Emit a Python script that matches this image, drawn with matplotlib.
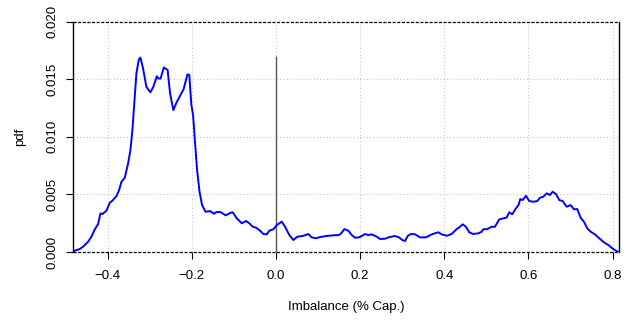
import matplotlib
matplotlib.use("Agg")
import matplotlib.pyplot as plt
import numpy as np

# Density curve (x: imbalance, y: pdf)
imbalance = [-0.4784, -0.4665, -0.4587, -0.4468, -0.4389, -0.4308, -0.4230, -0.4175, -0.4128, -0.4033,
             -0.3952, -0.3874, -0.3795, -0.3731, -0.3676, -0.3596, -0.3517, -0.3462, -0.3415, -0.3375,
             -0.3320, -0.3263, -0.3225, -0.3161, -0.3082, -0.2987, -0.2916, -0.2835, -0.2797, -0.2745,
             -0.2669, -0.2578, -0.2519, -0.2441, -0.2360, -0.2258, -0.2198, -0.2108, -0.2063, -0.2015,
             -0.1972, -0.1925, -0.1877, -0.1818, -0.1759, -0.1675, -0.1568, -0.1473, -0.1414, -0.1331,
             -0.1267, -0.1200, -0.1069, -0.1029, -0.0934, -0.0815, -0.0713, -0.0635, -0.0554, -0.0475,
             -0.0380, -0.0302, -0.0221, -0.0159, -0.0064, 0.0017, 0.0135, 0.0214, 0.0316, 0.0411,
             0.0506, 0.0635, 0.0768, 0.0848, 0.0951, 0.1046, 0.1205, 0.1362, 0.1497, 0.1561,
             0.1623, 0.1718, 0.1799, 0.1877, 0.1972, 0.2037, 0.2115, 0.2193, 0.2274, 0.2393,
             0.2471, 0.2590, 0.2669, 0.2750, 0.2828, 0.2923, 0.3001, 0.3066, 0.3130, 0.3208,
             0.3303, 0.3422, 0.3565, 0.3700, 0.3779, 0.3857, 0.3938, 0.4057, 0.4175, 0.4294,
             0.4373, 0.4437, 0.4515, 0.4594, 0.4689, 0.4808, 0.4888, 0.4926, 0.5021, 0.5126,
             0.5204, 0.5307, 0.5402, 0.5482, 0.5544, 0.5615, 0.5692, 0.5763, 0.5806, 0.5863,
             0.5941, 0.6020, 0.6115, 0.6210, 0.6274, 0.6352, 0.6433, 0.6511, 0.6576, 0.6654,
             0.6732, 0.6813, 0.6908, 0.7003, 0.7082, 0.7160, 0.7241, 0.7319, 0.7398, 0.7479,
             0.7581, 0.7683, 0.7795, 0.7897, 0.8016, 0.8111, 0.8158]
pdf_milli = [0.11, 0.26, 0.46, 0.89, 1.33, 1.97, 2.43, 3.35, 3.29, 3.58,
             4.27, 4.51, 4.85, 5.37, 6.09, 6.44, 7.69, 8.84, 10.57, 12.59,
             15.49, 16.70, 16.87, 15.92, 14.32, 13.86, 14.34, 15.25, 15.05, 15.05,
             16.01, 15.80, 13.75, 12.31, 13.02, 13.72, 14.12, 15.40, 15.38, 12.82,
             11.87, 9.42, 7.11, 5.20, 4.07, 3.49, 3.55, 3.32, 3.47, 3.47,
             3.35, 3.18, 3.42, 3.44, 2.92, 2.49, 2.69, 2.49, 2.19, 2.11,
             1.85, 1.56, 1.53, 1.85, 1.97, 2.34, 2.63, 2.19, 1.47, 1.04,
             1.33, 1.39, 1.56, 1.27, 1.19, 1.30, 1.39, 1.45, 1.47, 1.67,
             1.99, 1.85, 1.47, 1.24, 1.27, 1.39, 1.56, 1.47, 1.53, 1.33,
             1.13, 1.15, 1.27, 1.33, 1.39, 1.27, 1.04, 0.95, 1.39, 1.56,
             1.54, 1.27, 1.27, 1.53, 1.62, 1.71, 1.53, 1.41, 1.56, 1.99,
             2.19, 2.40, 2.19, 1.71, 1.56, 1.62, 1.76, 1.97, 1.99, 2.19,
             2.19, 2.83, 2.92, 2.99, 3.44, 3.27, 3.73, 4.07, 4.59, 4.51,
             4.88, 4.42, 4.36, 4.42, 4.71, 4.79, 5.09, 4.94, 5.23, 5.03,
             4.51, 4.42, 3.93, 4.07, 3.70, 3.73, 2.97, 2.63, 2.05, 1.76,
             1.53, 1.19, 0.84, 0.61, 0.26, 0.04, 0.0]
pdf = [v / 1000.0 for v in pdf_milli]

x_ticks = [-0.4, -0.2, 0.0, 0.2, 0.4, 0.6, 0.8]
y_ticks = [0.000, 0.005, 0.010, 0.015, 0.020]
y_tick_labels = ["0.000", "0.005", "0.010", "0.015", "0.020"]
x_range = (-0.482, 0.816)
y_range = (0.0, 0.020)
vline_top = 0.017

plt.rcParams['font.family'] = ['Liberation Sans', 'DejaVu Sans']

fig = plt.figure(figsize=(6.39, 3.20), dpi=100)
ax = fig.add_axes([73.3 / 639, 68 / 320, 546 / 639, 230.5 / 320])

ax.set_xlim(*x_range)
ax.set_ylim(*y_range)

# grid (dotted, light grey)
for xt in x_ticks:
    ax.axvline(xt, color='#c8c8c8', lw=0.8, ls=(0, (1, 2)), zorder=1)
for yt in y_ticks[1:-1]:
    ax.axhline(yt, color='#c8c8c8', lw=0.8, ls=(0, (1, 2)), zorder=1)

# dashed horizontal lines at 0 and top
ax.axhline(y_range[0], color='black', lw=0.9, ls=(0, (2.5, 1.2)), zorder=3, clip_on=False)
ax.axhline(y_range[1], color='black', lw=0.9, ls=(0, (2.5, 1.2)), zorder=3, clip_on=False)

# vertical line at zero
ax.vlines(0.0, 0.0, vline_top, color='#555555', lw=1.0, zorder=2)

ax.plot(imbalance, pdf, color='#0000ff', lw=1.4, zorder=4)

for s in ['top', 'bottom']:
    ax.spines[s].set_visible(False)
for s in ['left', 'right']:
    ax.spines[s].set_linewidth(1.0)
    ax.spines[s].set_color('black')

ax.set_xticks(x_ticks)
ax.set_xticklabels([f"{v:.1f}".replace('-', '\u2212') for v in x_ticks])
ax.set_yticks(y_ticks)
ax.set_yticklabels(y_tick_labels, rotation=90, va='center')
ax.tick_params(axis='both', direction='out', length=5, width=0.8, labelsize=9.5, colors='black')
ax.tick_params(axis='x', pad=8)
ax.tick_params(axis='y', pad=6)

ax.set_xlabel("Imbalance (% Cap.)", fontsize=9.5, va='center')
ax.xaxis.set_label_coords(0.5, (252 - 306.7) / 230.5)
ax.set_ylabel("pdf", fontsize=9.5, va='center')
ax.yaxis.set_label_coords((20 - 73.3) / 546, 0.5)

fig.savefig("out.png", dpi=100)
